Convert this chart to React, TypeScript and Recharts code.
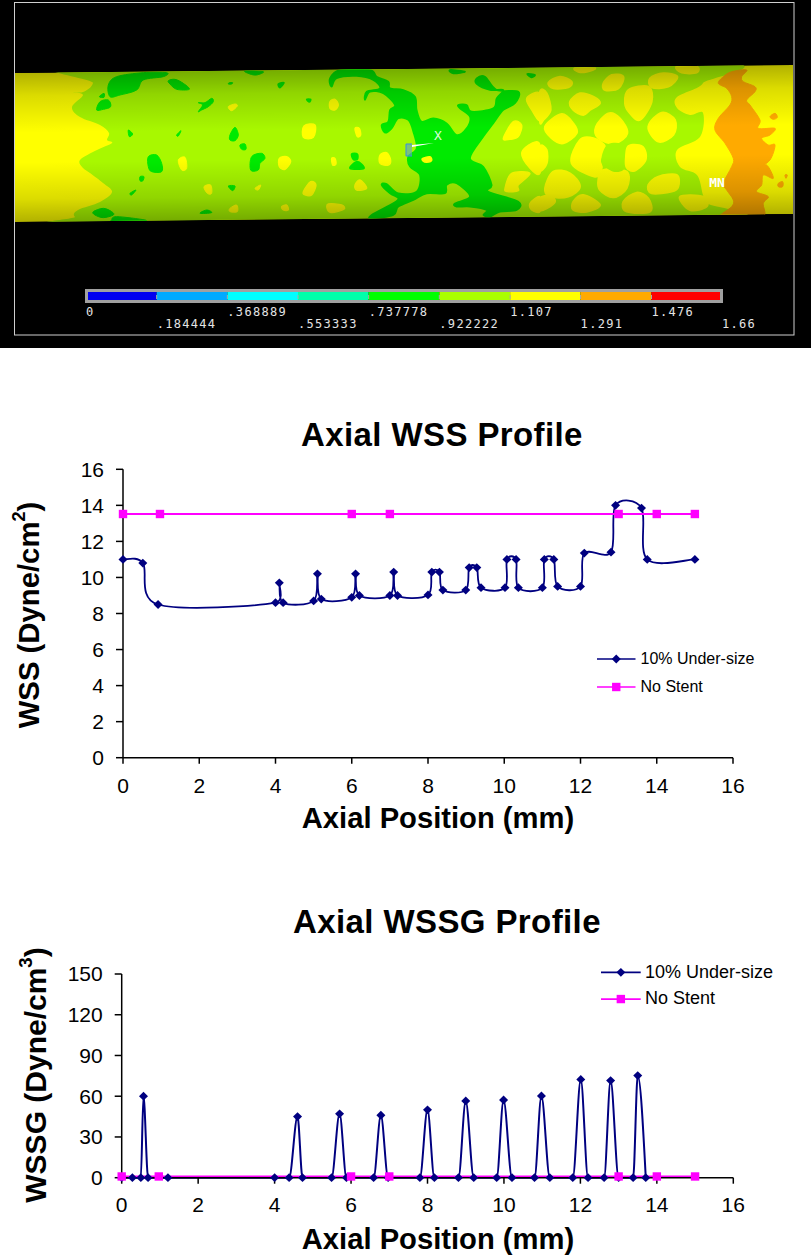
import React from "react";
import { BarChart, Bar, LineChart, Line, XAxis, YAxis, Legend } from "recharts";

// ---------- chart data ----------
const wssUnderX = [0, 0.52, 0.92, 4, 4.1, 4.2, 5, 5.1, 5.2, 6, 6.1, 6.2, 7, 7.1, 7.2, 8, 8.1, 8.3, 8.39, 8.99, 9.08, 9.28, 9.39, 10.02, 10.07, 10.31, 10.37, 11, 11.05, 11.3, 11.4, 12, 12.1, 12.8, 12.92, 13.6, 13.75, 15];
const wssUnderY = [11, 10.8, 8.5, 8.6, 9.7, 8.6, 8.7, 10.2, 8.8, 8.9, 10.2, 9, 9, 10.3, 9, 9.03, 10.3, 10.3, 9.3, 9.3, 10.55, 10.55, 9.43, 9.43, 11, 11, 9.43, 9.43, 11, 11, 9.5, 9.5, 11.35, 11.4, 14, 13.85, 11, 11];
const stentFreeX = [0, 0.97, 6, 7, 13, 14, 15];
const wssFreeY = [13.52, 13.52, 13.52, 13.52, 13.52, 13.52, 13.52];
const wssgUnderX = [0, 0.28, 0.5, 0.57, 0.69, 1.21, 4, 4.38, 4.6, 4.73, 5.49, 5.7, 5.88, 6.59, 6.78, 6.97, 7.8, 8, 8.18, 8.81, 9, 9.21, 9.81, 9.99, 10.21, 10.8, 10.98, 11.2, 11.8, 12.01, 12.2, 12.62, 12.79, 13, 13.38, 13.5, 13.71];
const wssgUnderY = [0, 0, 0, 60, 0, 0, 0, 0, 45, 0, 0, 47, 0, 0, 46, 0, 0, 50, 0, 0, 56.5, 0, 0, 57.2, 0, 0, 60.2, 0, 0, 72.4, 0, 0, 71.5, 0, 0, 75.2, 0];
const wssgFreeY = [0.9, 0.9, 0.9, 0.9, 0.9, 0.9, 0.9];
const axialTicks = [0, 2, 4, 6, 8, 10, 12, 14, 16];
const wssTicks = [0, 2, 4, 6, 8, 10, 12, 14, 16];
const wssgTicks = [0, 30, 60, 90, 120, 150];
const seriesNames = ["10% Under-size", "No Stent"];

// ---------- contour colour bar ----------
const bandColors = ["#0000f0", "#00aaff", "#00ffff", "#00ffaa", "#00ff00", "#aaff00", "#ffff00", "#ffaa00", "#ff0000"];
const bandWidths = [0.184444, 0.184445, 0.184444, 0.184445, 0.184444, 0.184778, 0.184, 0.185, 0.184];
const levelValues = [0, 0.184444, 0.368889, 0.553333, 0.737778, 0.922222, 1.107, 1.291, 1.476, 1.66];
const levelLabels = ["0", ".184444", ".368889", ".553333", ".737778", ".922222", "1.107", "1.291", "1.476", "1.66"];

const toRows = (xs: number[], ys: number[]) => xs.map((x, i) => ({ x, y: ys[i] }));
const bandRow: Record<string, number | string> = { name: "levels" };
bandWidths.forEach((w, i) => { bandRow["b" + i] = w; });

// ---------- contour picture outlines (traced on the picture) ----------
const LEFT_GREEN: string[] = [
  "330,110 325,75 350,50 430,38 500,38 490,50 430,60 410,90 360,105",
  "290,150 300,125 325,120 332,140 310,148", "298,110 312,100 312,112",
  "505,62 525,58 550,70 568,88 530,88 510,72",
  "595,128 615,128 635,115 640,125 625,140 605,150 595,155 608,135",
  "688,68 698,68 695,72 685,72", "690,225 705,202 715,225 705,242 690,240",
  "720,255 735,252 738,268 725,268", "385,210 398,222 388,230", "530,225 543,212 535,228",
  "445,290 470,285 485,310 485,335 455,335 445,320",
  "755,290 785,280 795,295 780,310 775,330 752,330",
  "420,350 432,350 428,363 420,362", "390,400 408,390 395,405", "685,378 705,378 698,392",
  "600,460 620,450 635,458", "280,455 310,445 335,455 340,465 310,473 285,465",
  "335,480 350,470 435,480 420,485 340,485", "735,33 790,35 770,45 750,42",
];
const LEFT_YELLOW: string[] = [
  "685,140 705,132 712,138 695,152", "535,300 555,292 560,325 545,330",
  "612,380 632,375 635,400 622,400", "765,385 782,375 775,390", "690,445 710,435 712,455 690,455",
];
const MID_GREEN: string[] = [
  "180,55 210,30 300,30 320,50 355,65 360,85 400,90 435,110 440,150 455,185 490,175 530,190 560,225 590,205 600,170 570,145 565,135 590,135 605,155 670,145 680,115 700,90 660,90 620,72 620,55 645,50 680,90 745,95 735,130 700,150 670,190 640,230 600,295 640,320 665,375 655,395 745,425 740,450 690,455 660,470 640,465 650,450 600,440 560,440 555,430 600,410 560,370 530,375 525,400 470,400 430,420 385,440 370,465 305,475 305,465 370,430 385,415 360,400 335,375 350,372 385,400 440,395 450,345 420,320 415,290 440,265 430,215 415,180 385,175 365,205 345,218 335,195 355,185 360,150 375,135 340,100 300,95 285,120 290,95 330,85 310,60 260,48 200,55 185,80",
  "25,72 42,68 30,83", "110,118 122,118 118,126", "245,282 262,282 262,298 250,298",
  "240,325 262,305 282,325", "540,30 585,35 550,40", "772,42 795,45 785,52",
];
const MID_YELLOW: string[] = [
  "458,295 480,290 485,302 470,307 458,302", "180,125 195,118 205,135 195,150 180,145",
  "102,198 135,195 130,232 100,232", "255,205 268,205 272,225 262,230",
  "28,295 50,290 62,305 45,328 28,320", "185,295 195,295 198,312 188,315",
  "330,285 350,278 362,300 355,315 330,310", "100,395 122,365 138,375 125,405 105,405",
  "255,375 270,360 290,385 260,390", "35,440 50,435 55,450 40,450",
  "175,432 215,435 222,448 185,458 172,448", "770,115 810,100 810,180 785,150",
  "700,235 730,185 755,195 745,230 720,238", "755,280 785,250 810,255 810,340 780,325",
  "705,385 725,340 780,340 745,375 745,392 712,395", "780,430 810,410 810,455 785,450",
];
const RIGHT_YELLOW: string[] = [
  "25,68 60,50 95,65 85,82 40,85", "190,70 215,45 250,50 235,85 195,90", "330,55 370,40 412,50 385,80 335,82",
  "0,95 20,100 32,150 10,180 0,185", "90,125 120,100 160,110 180,130 150,150 130,165 100,150",
  "255,130 265,90 325,80 335,125 300,180 270,160", "15,200 65,162 100,190 110,220 70,250 35,235",
  "168,200 205,160 240,175 262,220 225,250 175,235", "325,200 365,158 405,180 400,225 355,245",
  "0,260 20,270 20,310 0,330", "95,310 120,240 160,235 195,260 180,300 185,325 165,350",
  "15,385 40,335 90,340 120,380 85,410 30,410", "175,360 190,330 260,335 260,385 220,412 180,390",
  "325,375 355,350 410,345 415,380 395,395 335,400", "0,415 30,408 45,425 20,445 0,450",
  "100,425 130,405 180,435 140,455 100,450", "250,425 290,398 325,415 330,455 260,455",
  "420,410 490,410 500,440 450,450", "105,25 165,25 140,35 115,35", "410,20 470,20 470,38 425,38",
];
const RIGHT_HOLE = "185,290 205,252 255,255 262,300 250,330 220,335 190,315";
const RIGHT_AFTER_HOLE = "255,290 265,255 310,258 320,300 285,335 258,325";
const RIGHT_ORANGE: string[] = [
  "575,35 620,30 605,50 610,65 645,80 645,95 620,120 630,135 660,180 655,205 705,205 690,225 665,235 685,255 705,255 690,300 655,325 680,315 700,355 670,345 665,375 650,395 685,410 670,430 665,475 540,475 575,440 580,420 560,390 550,370 575,320 580,295 555,250 525,210 535,175 570,135 575,110 560,85 535,70 550,50",
  "690,170 705,160 712,172 700,178", "715,370 728,365 728,380 715,380", "735,345 742,345 738,355",
];
// outline of the lighter band, in page pixels
const LIGHT_BAND = "92,62 93,83 83,92 72,92 83,95 72,107 80,117 100,125 109,133 107,140 112,143 97,150 80,160 83,168 90,173 103,183 112,192 100,202 78,210 75,217 93,226 703,222 707,203 703,195 697,175 680,167 677,150 700,137 703,113 690,115 677,108 677,97 703,83 697,60";

const GREEN = "#00ea00";
const YGREEN = "#a8f800";
const YELLOW = "#ffff00";
const ORANGE = "#ffaa00";
const TUBE = "15,73 793,65 793,214 15,222";

// closed smooth outline through the traced points
function blob(points: string) {
  const p = points.split(" ").map((s) => s.split(",").map(Number));
  const n = p.length;
  let d = `M${p[0][0]} ${p[0][1]}`;
  for (let i = 0; i < n; i++) {
    const a = p[(i - 1 + n) % n], b = p[i], c = p[(i + 1) % n], e = p[(i + 2) % n];
    d += `C${b[0] + (c[0] - a[0]) / 6} ${b[1] + (c[1] - a[1]) / 6} ${c[0] - (e[0] - b[0]) / 6} ${c[1] - (e[1] - b[1]) / 6} ${c[0]} ${c[1]}`;
  }
  return d + "Z";
}

const Blobs = ({ items, fill, grow = 0 }: { items: string[]; fill: string; grow?: number }) => (
  <>{items.map((p, i) => <path key={i} d={blob(p)} fill={fill} stroke={fill} strokeWidth={grow} />)}</>
);

function ContourPicture() {
  const mono = "'DejaVu Sans Mono', monospace";
  return (
    <svg width={812} height={350} style={{ position: "absolute", left: 0, top: 0 }}>
      <defs>
        <clipPath id="tube"><polygon points={TUBE} /></clipPath>
        <linearGradient id="shade" gradientUnits="userSpaceOnUse" x1={404} y1={69.5} x2={405.5} y2={217.5}>
          <stop offset="0" stopColor="#000" stopOpacity={0.3} />
          <stop offset="0.15" stopColor="#000" stopOpacity={0.14} />
          <stop offset="0.4" stopColor="#000" stopOpacity={0} />
          <stop offset="0.6" stopColor="#000" stopOpacity={0} />
          <stop offset="0.85" stopColor="#000" stopOpacity={0.14} />
          <stop offset="1" stopColor="#000" stopOpacity={0.3} />
        </linearGradient>
      </defs>
      <rect x={0} y={0} width={811} height={348} fill="#000" />
      <rect x={14.5} y={2.5} width={779.5} height={332.5} fill="none" stroke="#cfcfcf" strokeWidth={1} />
      <g clipPath="url(#tube)">
        <polygon points={TUBE} fill={YELLOW} />
        <path d={blob(LIGHT_BAND)} fill={YGREEN} />
        <g transform="translate(0,60) scale(0.3333)">
          <Blobs items={LEFT_GREEN} fill={GREEN} grow={3} />
          <Blobs items={LEFT_YELLOW} fill={YELLOW} grow={3} />
        </g>
        <g transform="translate(270,60) scale(0.3333)">
          <Blobs items={MID_GREEN} fill={GREEN} grow={5} />
          <Blobs items={MID_YELLOW} fill={YELLOW} grow={4} />
        </g>
        <g transform="translate(540,60) scale(0.3333)">
          <Blobs items={RIGHT_YELLOW} fill={YELLOW} grow={6} />
          <path d={blob(RIGHT_HOLE)} fill={YGREEN} />
          <path d={blob(RIGHT_AFTER_HOLE)} fill={YELLOW} />
          <Blobs items={RIGHT_ORANGE} fill={ORANGE} grow={3} />
        </g>
      </g>
      <polygon points={TUBE} fill="url(#shade)" />
      <polyline points="412,144 406,144 406,156 412,156" fill="#5aa0d0" fillOpacity={0.6} stroke="#3a8fe0" strokeWidth={1} />
      <polygon points="412,145 434,143 412,147" fill="#fff" />
      <text x={438} y={140} fontFamily={mono} fontSize={13} fill="#d8ffd8" textAnchor="middle">X</text>
      <text x={717} y={187} fontFamily={mono} fontSize={13} fontWeight="bold" fill="#fff" textAnchor="middle">MN</text>
    </svg>
  );
}

function LevelTick(props: any) {
  const { x, y, index, payload } = props;
  const row = index % 2;
  return (
    <g>
      <line x1={x} x2={x} y1={y - 6} y2={y - 2} stroke="#aaa" strokeWidth={1} />
      <text x={x} y={row === 0 ? 36 : 48} fill="#e4e4e4"
        fontFamily="'DejaVu Sans Mono', monospace" fontSize={12} letterSpacing={1.3}>
        {levelLabels[levelValues.indexOf(payload.value)]}
      </text>
    </g>
  );
}

function ColorBar() {
  return (
    <div style={{ position: "absolute", left: 0, top: 280 }}>
      <BarChart width={812} height={60} layout="vertical" data={[bandRow]} barCategoryGap={0}
        margin={{ left: 86, right: 90, top: 12, bottom: 0 }}>
        <XAxis type="number" domain={[0, 1.66]} ticks={levelValues} interval={0} tick={LevelTick}
          axisLine={false} tickLine={false} tickMargin={0} tickSize={0} height={39} />
        <YAxis type="category" dataKey="name" hide />
        {bandColors.map((c, i) => (
          <Bar key={i} dataKey={"b" + i} stackId="levels" fill={c} isAnimationActive={false} />
        ))}
      </BarChart>
    </div>
  );
}

// ---------- spreadsheet-style smoothed line ----------
function sheetCurve(context: any) {
  let pts: [number, number][] = [];
  const dist = (a: number[], b: number[]) => Math.hypot(a[0] - b[0], a[1] - b[1]) || 1e-6;
  return {
    areaStart() {},
    areaEnd() {},
    lineStart() { pts = []; },
    point(x: number, y: number) { pts.push([+x, +y]); },
    lineEnd() {
      if (!pts.length) return;
      context.moveTo(pts[0][0], pts[0][1]);
      for (let i = 0; i < pts.length - 1; i++) {
        const p0 = pts[i - 1] || pts[i];
        const p1 = pts[i];
        const p2 = pts[i + 1];
        const p3 = pts[i + 2] || p2;
        const d12 = dist(p1, p2);
        const f = Math.min(1 / 6, (0.5 * d12) / dist(p0, p2));
        const g = Math.min(1 / 6, (0.5 * d12) / dist(p1, p3));
        context.bezierCurveTo(
          p1[0] + (p2[0] - p0[0]) * f, p1[1] + (p2[1] - p0[1]) * f,
          p2[0] - (p3[0] - p1[0]) * g, p2[1] - (p3[1] - p1[1]) * g,
          p2[0], p2[1]
        );
      }
    },
  };
}

const NAVY = "#000080";
const PINK = "#ff00ff";
const SANS = "'Liberation Sans', Arial, sans-serif";

const diamond = (props: any) => {
  const { cx, cy, index } = props;
  return <path key={index} d={`M${cx} ${cy - 4.4}L${cx + 4.5} ${cy}L${cx} ${cy + 4.4}L${cx - 4.5} ${cy}Z`} fill={NAVY} />;
};
const square = (props: any) => {
  const { cx, cy, index } = props;
  return <rect key={index} x={cx - 4.2} y={cy - 4.2} width={8.4} height={8.4} fill={PINK} />;
};

function legendFor(lineX0: number, lineX1: number, textX: number, rowH: number, fontSize: number) {
  return () => (
    <svg width={190} height={rowH * 2} style={{ display: "block" }}>
      {seriesNames.map((name, i) => {
        const y = rowH / 2 + i * rowH;
        const mid = (lineX0 + lineX1) / 2;
        const color = i === 0 ? NAVY : PINK;
        return (
          <g key={name}>
            <line x1={lineX0} x2={lineX1} y1={y} y2={y} stroke={color} strokeWidth={1.7} />
            {i === 0 ? diamond({ cx: mid, cy: y, index: 0 }) : square({ cx: mid, cy: y, index: 0 })}
            <text x={textX} y={y + fontSize * 0.3} fontFamily={SANS} fontSize={fontSize} fill="#000">{name}</text>
          </g>
        );
      })}
    </svg>
  );
}

const heading = (text: string, top: number, left: number, size: number) => (
  <div style={{ position: "absolute", left, top, fontFamily: SANS, fontWeight: "bold", fontSize: size, color: "#000", whiteSpace: "nowrap", lineHeight: 1, letterSpacing: 0.4 }}>
    {text}
  </div>
);

function yTitle(cx: number, cy: number, base: string, sup: string, size: number) {
  return () => (
    <text transform={`translate(${cx},${cy}) rotate(-90)`} textAnchor="middle" dominantBaseline="middle"
      fontFamily={SANS} fontWeight="bold" fontSize={size} fill="#000">
      {base}
      <tspan dy={-size * 0.36} fontSize={size * 0.62}>{sup}</tspan>
      <tspan dy={size * 0.36}>)</tspan>
    </text>
  );
}

function xTitle(cy: number, size: number) {
  return () => (
    <text x={438} y={cy} textAnchor="middle" dominantBaseline="middle" fontFamily={SANS} fontWeight="bold" fontSize={size} fill="#000">
      Axial Position (mm)
    </text>
  );
}

const axisProps = {
  stroke: "#000",
  strokeWidth: 1.5,
  tickLine: { stroke: "#000", strokeWidth: 1.5 },
};
const tickStyle = { fill: "#000", fontFamily: SANS, fontSize: 21 };

export default function App() {
  return (
    <div style={{ position: "absolute", left: 0, top: 0, width: 812, height: 1257, background: "#fff", overflow: "hidden" }}>
      <ContourPicture />
      <ColorBar />
      <svg width={812} height={350} style={{ position: "absolute", left: 0, top: 0, pointerEvents: "none" }}>
        <rect x={86.5} y={290.5} width={635} height={11} fill="none" stroke="#a0a0a0" strokeWidth={3} />
      </svg>

      {heading("Axial WSS Profile", 418, 301, 33)}
      <div style={{ position: "absolute", left: 0, top: 400 }}>
        <LineChart width={812} height={450} margin={{ left: 0, right: 79, top: 69.3, bottom: 0 }}>
          <XAxis dataKey="x" type="number" domain={[0, 16]} ticks={axialTicks} interval={0} height={92.3}
            tickSize={6} tickMargin={14} tick={tickStyle} {...axisProps}
            label={{ content: xTitle(420, 29.2) }} allowDuplicatedCategory={false} />
          <YAxis type="number" domain={[0, 16]} ticks={wssTicks} interval={0} width={123}
            tickSize={7} tickMargin={12} tick={tickStyle} {...axisProps}
            label={{ content: yTitle(31, 215, "WSS (Dyne/cm", "2", 29.3) }} />
          <Line data={toRows(wssUnderX, wssUnderY)} dataKey="y" name={seriesNames[0]} type={sheetCurve as any}
            stroke={NAVY} strokeWidth={1.8} dot={diamond} isAnimationActive={false} />
          <Line data={toRows(stentFreeX, wssFreeY)} dataKey="y" name={seriesNames[1]} type="linear"
            stroke={PINK} strokeWidth={1.8} dot={square} isAnimationActive={false} />
          <Legend content={legendFor(0, 38.5, 43.5, 28, 16)} layout="vertical" align="center" verticalAlign="middle"
            wrapperStyle={{ position: "absolute", left: 597, top: 245, width: 190, height: 56, margin: 0 }} />
        </LineChart>
      </div>

      {heading("Axial WSSG Profile", 905, 293, 33)}
      <div style={{ position: "absolute", left: 0, top: 900 }}>
        <LineChart width={812} height={357} margin={{ left: 0, right: 78.7, top: 74, bottom: 0 }}>
          <XAxis dataKey="x" type="number" domain={[0, 16]} ticks={axialTicks} interval={0} height={79.3}
            tickSize={6} tickMargin={13} tick={tickStyle} {...axisProps}
            label={{ content: xTitle(341, 29.2) }} allowDuplicatedCategory={false} />
          <YAxis type="number" domain={[0, 150]} ticks={wssgTicks} interval={0} width={121.7}
            tickSize={7} tickMargin={12} tick={tickStyle} {...axisProps}
            label={{ content: yTitle(38, 175, "WSSG (Dyne/cm", "3", 30) }} />
          <Line data={toRows(wssgUnderX, wssgUnderY)} dataKey="y" name={seriesNames[0]} type="monotone"
            stroke={NAVY} strokeWidth={2} dot={diamond} isAnimationActive={false} />
          <Line data={toRows(stentFreeX, wssgFreeY)} dataKey="y" name={seriesNames[1]} type="linear"
            stroke={PINK} strokeWidth={2} dot={square} isAnimationActive={false} />
          <Legend content={legendFor(0, 39.7, 44, 26.7, 18)} layout="vertical" align="center" verticalAlign="middle"
            wrapperStyle={{ position: "absolute", left: 601, top: 58.6, width: 190, height: 53.4, margin: 0 }} />
        </LineChart>
      </div>
    </div>
  );
}
